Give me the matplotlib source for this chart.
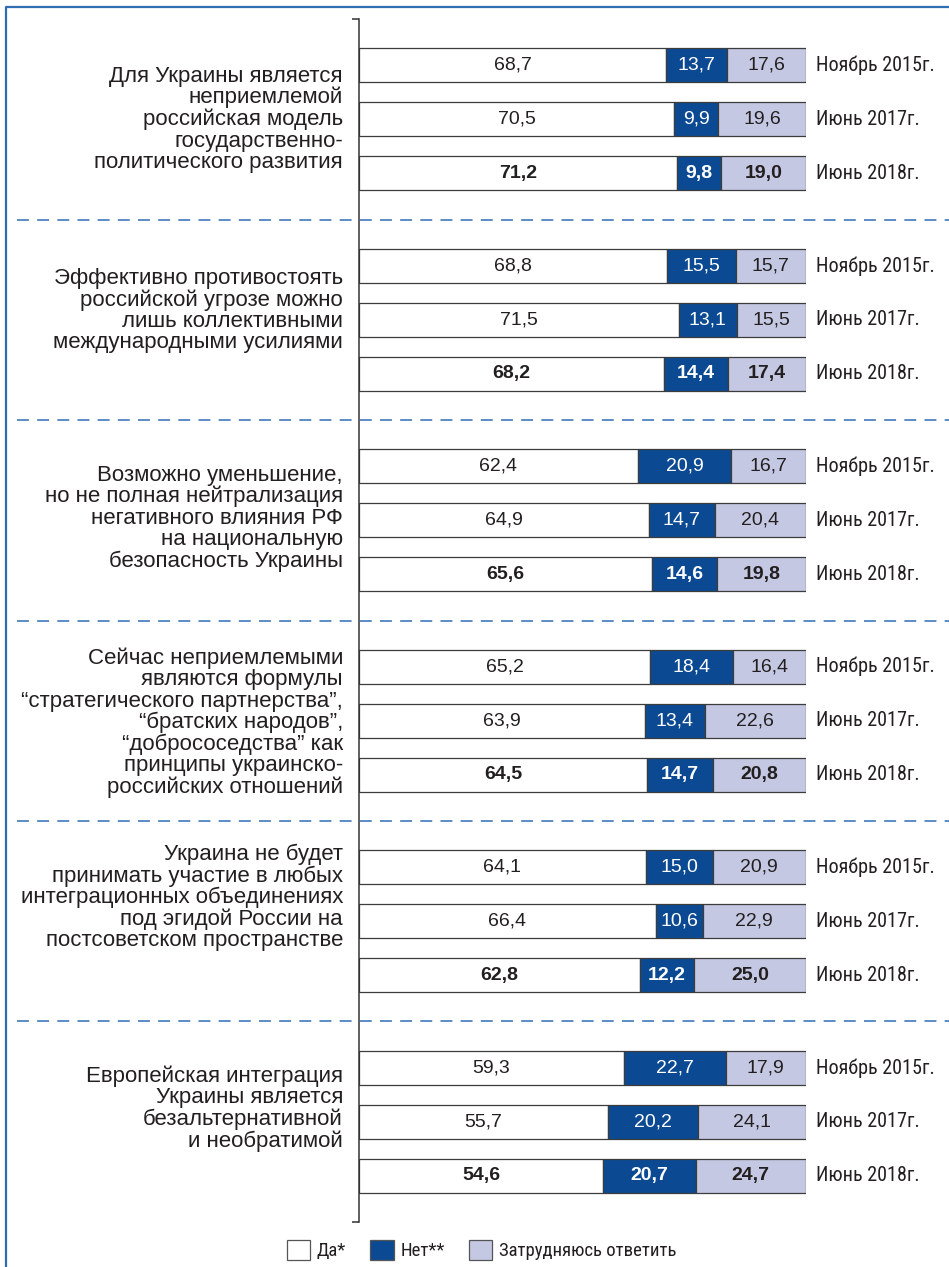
import matplotlib.pyplot as plt
import matplotlib.patches as mpatches
import matplotlib.transforms as mtransforms
from matplotlib.lines import Line2D

# ─── Data ─────────────────────────────────────────────────────────────────────
CATEGORIES = [
    "Для Украины является\nнеприемлемой\nроссийская модель\nгосударственно-\nполитического развития",
    "Эффективно противостоять\nроссийской угрозе можно\nлишь коллективными\nмеждународными усилиями",
    "Возможно уменьшение,\nно не полная нейтрализация\nнегативного влияния РФ\nна национальную\nбезопасность Украины",
    "Сейчас неприемлемыми\nявляются формулы\n“стратегического партнерства”,\n“братских народов”,\n“добрососедства” как\nпринципы украинско-\nроссийских отношений",
    "Украина не будет\nпринимать участие в любых\nинтеграционных объединениях\nпод эгидой России на\nпостсоветском пространстве",
    "Европейская интеграция\nУкраины является\nбезальтернативной\nи необратимой",
]
PERIODS = ["Ноябрь 2015г.", "Июнь 2017г.", "Июнь 2018г."]

YES = [[68.7, 70.5, 71.2], [68.8, 71.5, 68.2], [62.4, 64.9, 65.6],
       [65.2, 63.9, 64.5], [64.1, 66.4, 62.8], [59.3, 55.7, 54.6]]
NO = [[13.7, 9.9, 9.8], [15.5, 13.1, 14.4], [20.9, 14.7, 14.6],
      [18.4, 13.4, 14.7], [15.0, 10.6, 12.2], [22.7, 20.2, 20.7]]
HARD = [[17.6, 19.6, 19.0], [15.7, 15.5, 17.4], [16.7, 20.4, 19.8],
        [16.4, 22.6, 20.8], [20.9, 22.9, 25.0], [17.9, 24.1, 24.7]]

LEGEND_LABELS = ["Да*", "Нет**", "Затрудняюсь ответить"]

# ─── Styles ───────────────────────────────────────────────────────────────────
W, H = 949, 1267
YES_COLOR = "#ffffff"
NO_COLOR = "#0b4a92"
HARD_COLOR = "#c4c8e2"
EDGE = "#3c3c3c"
FRAME = "#2f6db3"
TXT = "#231f20"
SANS = ["Liberation Sans", "DejaVu Sans"]
NARROW = ["Roboto Condensed", "PT Sans Narrow", "Liberation Sans"]

GROUP = 200.5 / 54      # group height in bar-spacing units
BAR_H = 34 / 54
LABEL_SHIFT = [0.0, -0.17, -0.04, 0.04, -0.44, -0.24]

fig = plt.figure(figsize=(W / 100, H / 100), dpi=100)
ax = fig.add_axes([359 / W, 1 - 1222 / H, 447 / W, (1222 - 19) / H])

for g in range(len(CATEGORIES)):
    for r in range(3):
        y = g * GROUP + (r - 1)
        yes, no, hard = YES[g][r], NO[g][r], HARD[g][r]
        ax.barh(y, yes, height=BAR_H, left=0, color=YES_COLOR,
                edgecolor=EDGE, linewidth=0.9, zorder=2)
        ax.barh(y, no, height=BAR_H, left=yes, color=NO_COLOR,
                edgecolor=EDGE, linewidth=0.9, zorder=2)
        ax.barh(y, hard, height=BAR_H, left=yes + no, color=HARD_COLOR,
                edgecolor=EDGE, linewidth=0.9, zorder=2)
        weight = "bold" if r == 2 else "normal"
        for left, val, col in [(0, yes, TXT), (yes, no, "white"),
                               (yes + no, hard, TXT)]:
            ax.text(left + val / 2, y, f"{val:.1f}".replace(".", ","),
                    ha="center", va="center", fontsize=14, color=col,
                    fontweight=weight, family=SANS, zorder=3)
        ax.text(102.3, y, PERIODS[r], ha="left", va="center",
                fontsize=14.5, color=TXT, family=NARROW)
    ax.text(-3.6, g * GROUP + LABEL_SHIFT[g], CATEGORIES[g], ha="right",
            va="center", fontsize=16, color=TXT, family=SANS,
            linespacing=1.02)

# ─── Axes ─────────────────────────────────────────────────────────────────────
ylo, yhi = -GROUP / 2, len(CATEGORIES) * GROUP - GROUP / 2
ax.set_xlim(0, 100)
ax.set_ylim(yhi, ylo)
for s in ["top", "right", "bottom"]:
    ax.spines[s].set_visible(False)
ax.spines["left"].set_color("#333333")
ax.spines["left"].set_linewidth(1.1)
ax.set_xticks([])
ax.set_yticks([ylo, yhi])
ax.set_yticklabels([])
ax.tick_params(axis="y", length=5, width=1.1, color="#333333")
ax.patch.set_visible(False)

# ── Dashed separators between groups ─────────────────────────────────────────
trans = mtransforms.blended_transform_factory(fig.transFigure, ax.transData)
for g in range(1, len(CATEGORIES)):
    ys = g * GROUP - GROUP / 2
    fig.add_artist(Line2D([17 / W, 1], [ys, ys], transform=trans,
                          color=FRAME, lw=1.1, linestyle=(0, (7.8, 5.4))))

# ── Frame (left and top) ──────────────────────────────────────────────────────
fig.add_artist(Line2D([6 / W, 6 / W, 1], [0, 1 - 6.5 / H, 1 - 6.5 / H],
                      color=FRAME, lw=1.6))

# ── Legend ────────────────────────────────────────────────────────────────────
handles = [mpatches.Patch(facecolor=c, edgecolor="#555555", linewidth=0.9)
           for c in [YES_COLOR, NO_COLOR, HARD_COLOR]]
leg = fig.legend(handles, LEGEND_LABELS, loc="center",
                 bbox_to_anchor=(0.5 + 7 / W, 1 - 1250 / H), ncol=3,
                 frameon=False, handlelength=1.25, handleheight=1.25,
                 handletextpad=0.35, columnspacing=1.3,
                 prop={"family": NARROW, "size": 13.5})
for t in leg.get_texts():
    t.set_color(TXT)

fig.savefig("out.png", dpi=100)
